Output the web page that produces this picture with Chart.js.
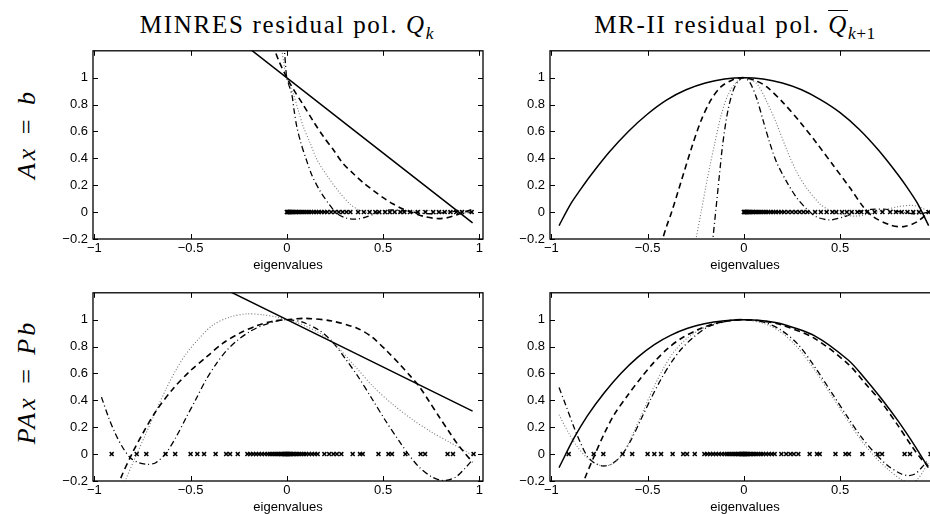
<!DOCTYPE html>
<html>
<head>
<meta charset="utf-8">
<script src="https://cdn.jsdelivr.net/npm/chart.js@4.4.1/dist/chart.umd.min.js"></script>
<style>
  html, body { margin:0; padding:0; background:#fff; }
  body { width:930px; height:514px; position:relative; overflow:hidden; }
  canvas { position:absolute; }
  .ttl { position:absolute; font-family:"Liberation Serif","DejaVu Serif",serif; font-size:25px; letter-spacing:1.7px; color:#000; text-align:center; white-space:nowrap; line-height:28px; }
  .ttl sub { font-size:70%; vertical-align:-0.35em; line-height:0; letter-spacing:0.5px; }
  .row { position:absolute; font-family:"Liberation Serif","DejaVu Serif",serif; font-size:26px; letter-spacing:3px; word-spacing:2px; color:#000; white-space:nowrap; transform:translate(-50%,-50%) rotate(-90deg); }
  .ov { text-decoration:overline; text-decoration-thickness:1px; }
</style>
</head>
<body>
<div class="ttl" style="left:87px; top:11px; width:400px;">MINRES residual pol. <i>Q</i><sub><i>k</i></sub></div>
<div class="ttl" style="left:535px; top:11px; width:400px;">MR-II residual pol. <i class="ov">Q</i><sub><i>k</i>+1</sub></div>
<div class="row" style="left:27px; top:134px;"><i>Ax</i> = <i>b</i></div>
<div class="row" style="left:27px; top:382px;"><i>PAx</i> = <i>Pb</i></div>

<canvas id="c1" width="450" height="237" style="left:40px; top:38px;"></canvas>
<canvas id="c2" width="450" height="237" style="left:497px; top:38px;"></canvas>
<canvas id="c3" width="450" height="237" style="left:40px; top:280px;"></canvas>
<canvas id="c4" width="450" height="237" style="left:497px; top:280px;"></canvas>

<script>
// ---------- axis ticks ----------
const xTickValues = [-1, -0.5, 0, 0.5, 1];
const xTickLabels = ['\u22121', '\u22120.5', '0', '0.5', '1'];
const yTickValues = [-0.2, 0, 0.2, 0.4, 0.6, 0.8, 1];
const yTickLabels = ['\u22120.2', '0', '0.2', '0.4', '0.6', '0.8', '1'];
const xLabel = 'eigenvalues';

// ---------- eigenvalues (markers at y = 0) ----------
const eigA = [0,0.003,0.006,0.01,0.014,0.018,0.023,0.028,0.034,0.04,0.047,0.055,0.063,0.072,0.082,0.092,0.103,0.115,0.127,0.14,0.153,0.166,0.18,0.195,0.21,0.23,0.25,0.27,0.29,0.31,0.33,0.37,0.4,0.43,0.46,0.48,0.51,0.535,0.56,0.59,0.61,0.64,0.68,0.72,0.76,0.79,0.82,0.85,0.88,0.91,0.96];
const eigPA = [-0.91,-0.78,-0.73,-0.63,-0.58,-0.5,-0.465,-0.43,-0.37,-0.315,-0.295,-0.255,-0.205,-0.19,-0.175,-0.16,-0.145,-0.13,-0.115,-0.1,-0.088,-0.076,-0.065,-0.055,-0.046,-0.038,-0.03,-0.023,-0.017,-0.012,-0.008,-0.004,0,0.004,0.008,0.012,0.017,0.023,0.03,0.038,0.046,0.055,0.065,0.076,0.088,0.1,0.115,0.13,0.145,0.16,0.195,0.22,0.242,0.26,0.283,0.342,0.38,0.394,0.476,0.528,0.546,0.616,0.695,0.718,0.835,0.863,0.97];

// ---------- MINRES, Ax = b ----------
const minresA_solid = [[-0.2,1.223],[0.965,-0.08]];
const minresA_dashed = [[-0.075,1.25],[-0.04,1.12],[0,1],[0.04,0.9],[0.08,0.81],[0.14,0.67],[0.19,0.562],[0.24,0.467],[0.29,0.365],[0.35,0.28],[0.4,0.215],[0.45,0.16],[0.5,0.108],[0.55,0.062],[0.6,0.025],[0.66,-0.007],[0.72,-0.035],[0.78,-0.048],[0.83,-0.043],[0.88,-0.022],[0.92,0.0],[0.965,0.02]];
const minresA_dotted = [[-0.03,1.25],[-0.015,1.1],[0,1],[0.035,0.873],[0.06,0.754],[0.086,0.634],[0.121,0.514],[0.155,0.395],[0.207,0.275],[0.268,0.156],[0.328,0.06],[0.38,0.012],[0.45,-0.012],[0.55,-0.01],[0.65,0.008],[0.75,0.012],[0.85,0.0],[0.965,-0.008]];
const minresA_dashdot = [[-0.015,1.25],[-0.007,1.1],[0,1],[0.026,0.873],[0.038,0.754],[0.052,0.634],[0.073,0.514],[0.1,0.395],[0.13,0.275],[0.173,0.156],[0.225,0.048],[0.26,-0.01],[0.31,-0.045],[0.36,-0.052],[0.41,-0.038],[0.47,-0.005],[0.53,0.015],[0.6,0.012],[0.68,-0.005],[0.76,-0.012],[0.84,0.0],[0.9,0.01],[0.965,-0.005]];

// ---------- MR-II, Ax = b ----------
const mr2A_solid = [[-0.96,-0.1],[-0.9,0.06],[-0.85,0.165],[-0.8,0.265],[-0.7,0.445],[-0.6,0.6],[-0.5,0.73],[-0.4,0.835],[-0.3,0.91],[-0.2,0.96],[-0.1,0.99],[0,1],[0.1,0.99],[0.2,0.96],[0.3,0.91],[0.4,0.835],[0.5,0.74],[0.6,0.615],[0.7,0.46],[0.8,0.28],[0.85,0.18],[0.9,0.07],[0.96,-0.1]];
const mr2A_dashed = [[-0.43,-0.25],[-0.422,-0.2],[-0.4,-0.1],[-0.378,-0.012],[-0.326,0.227],[-0.274,0.467],[-0.222,0.682],[-0.17,0.837],[-0.118,0.933],[-0.057,0.985],[0,1],[0.06,0.978],[0.118,0.933],[0.205,0.813],[0.292,0.67],[0.378,0.514],[0.465,0.347],[0.552,0.179],[0.622,0.036],[0.674,-0.036],[0.76,-0.096],[0.83,-0.108],[0.9,-0.072],[0.96,0.0]];
const mr2A_dotted = [[-0.256,-0.25],[-0.25,-0.21],[-0.222,0.0],[-0.188,0.26],[-0.153,0.5],[-0.118,0.72],[-0.083,0.87],[-0.04,0.965],[0,1],[0.066,0.957],[0.118,0.825],[0.17,0.658],[0.222,0.467],[0.274,0.3],[0.326,0.179],[0.396,0.06],[0.448,0.012],[0.5,-0.015],[0.58,-0.03],[0.66,-0.01],[0.74,0.02],[0.8,0.04],[0.87,0.05],[0.92,0.035],[0.96,0.0]];
const mr2A_dashdot = [[-0.165,-0.25],[-0.161,-0.2],[-0.144,0.036],[-0.127,0.275],[-0.109,0.514],[-0.083,0.754],[-0.057,0.897],[-0.031,0.972],[0,1],[0.031,0.965],[0.066,0.849],[0.1,0.682],[0.135,0.514],[0.17,0.371],[0.222,0.227],[0.274,0.108],[0.326,0.024],[0.378,-0.036],[0.448,-0.058],[0.517,-0.036],[0.587,0.0],[0.66,0.02],[0.74,0.02],[0.82,0.0],[0.9,-0.015],[0.96,0.0]];

// ---------- MINRES, PAx = Pb ----------
const minresPA_solid = [[-0.3,1.212],[0.965,0.32]];
const minresPA_dashed = [[-0.875,-0.25],[-0.864,-0.183],[-0.803,0.007],[-0.75,0.15],[-0.681,0.317],[-0.593,0.483],[-0.506,0.614],[-0.419,0.721],[-0.332,0.825],[-0.244,0.9],[-0.157,0.955],[-0.07,0.99],[0,1],[0.095,1.01],[0.234,0.99],[0.365,0.936],[0.443,0.87],[0.521,0.765],[0.582,0.675],[0.642,0.58],[0.686,0.507],[0.738,0.395],[0.79,0.28],[0.842,0.168],[0.885,0.078],[0.925,0.007],[0.965,-0.06]];
const minresPA_dotted = [[-0.845,-0.25],[-0.838,-0.195],[-0.785,-0.017],[-0.733,0.15],[-0.681,0.317],[-0.628,0.483],[-0.576,0.626],[-0.524,0.745],[-0.454,0.864],[-0.384,0.96],[-0.297,1.019],[-0.209,1.043],[-0.122,1.036],[-0.052,1.019],[0,1],[0.05,0.98],[0.1,0.95],[0.17,0.9],[0.26,0.8],[0.35,0.66],[0.45,0.5],[0.55,0.37],[0.65,0.26],[0.75,0.165],[0.85,0.085],[0.93,0.02],[0.965,-0.01]];
const minresPA_dashdot = [[-0.963,0.424],[-0.925,0.269],[-0.89,0.15],[-0.855,0.055],[-0.812,-0.029],[-0.768,-0.064],[-0.724,-0.076],[-0.681,-0.064],[-0.628,0.007],[-0.576,0.126],[-0.524,0.269],[-0.471,0.412],[-0.419,0.555],[-0.366,0.674],[-0.314,0.769],[-0.262,0.84],[-0.192,0.912],[-0.122,0.96],[-0.052,0.99],[0,1],[0.078,0.983],[0.165,0.924],[0.234,0.84],[0.304,0.71],[0.373,0.57],[0.443,0.41],[0.512,0.25],[0.582,0.1],[0.634,-0.005],[0.686,-0.095],[0.755,-0.171],[0.815,-0.197],[0.877,-0.171],[0.929,-0.1],[0.965,-0.04]];

// ---------- MR-II, PAx = Pb ----------
const mr2PA_solid = [[-0.96,-0.1],[-0.882,0.12],[-0.813,0.285],[-0.726,0.455],[-0.639,0.6],[-0.552,0.72],[-0.465,0.815],[-0.378,0.885],[-0.292,0.936],[-0.205,0.97],[-0.1,0.992],[0,1],[0.1,0.992],[0.194,0.97],[0.368,0.88],[0.542,0.7],[0.628,0.565],[0.715,0.412],[0.802,0.245],[0.889,0.06],[0.958,-0.1]];
const mr2PA_dashed = [[-0.84,-0.25],[-0.83,-0.195],[-0.778,-0.017],[-0.726,0.15],[-0.674,0.293],[-0.604,0.436],[-0.535,0.567],[-0.465,0.686],[-0.396,0.785],[-0.326,0.86],[-0.24,0.925],[-0.153,0.97],[-0.066,0.995],[0,1],[0.1,0.99],[0.194,0.962],[0.368,0.86],[0.542,0.67],[0.628,0.53],[0.715,0.385],[0.802,0.21],[0.872,0.06],[0.924,-0.04],[0.958,-0.09]];
const mr2PA_dotted = [[-0.96,0.293],[-0.917,0.174],[-0.865,0.055],[-0.813,-0.029],[-0.76,-0.076],[-0.717,-0.088],[-0.674,-0.064],[-0.622,0.019],[-0.569,0.174],[-0.517,0.34],[-0.465,0.507],[-0.413,0.65],[-0.361,0.765],[-0.292,0.865],[-0.222,0.93],[-0.153,0.97],[-0.066,0.995],[0,1],[0.108,0.97],[0.194,0.905],[0.281,0.79],[0.368,0.626],[0.455,0.436],[0.542,0.245],[0.611,0.1],[0.681,-0.02],[0.75,-0.115],[0.819,-0.19],[0.86,-0.21],[0.9,-0.19],[0.935,-0.12],[0.96,-0.06]];
const mr2PA_dashdot = [[-0.96,0.495],[-0.925,0.364],[-0.882,0.198],[-0.847,0.079],[-0.813,-0.017],[-0.778,-0.064],[-0.734,-0.088],[-0.691,-0.076],[-0.639,-0.017],[-0.587,0.102],[-0.535,0.257],[-0.483,0.412],[-0.431,0.555],[-0.378,0.68],[-0.326,0.78],[-0.257,0.875],[-0.188,0.945],[-0.1,0.985],[0,1],[0.108,0.98],[0.194,0.922],[0.281,0.817],[0.368,0.65],[0.455,0.46],[0.542,0.269],[0.611,0.126],[0.681,0.007],[0.75,-0.088],[0.819,-0.148],[0.854,-0.16],[0.889,-0.148],[0.924,-0.1],[0.958,-0.04]];

// ---------- styling ----------
const X_MIN = -1.007, X_MAX = 1.019, Y_MIN = -0.2, Y_MAX = 1.2;
const STYLES = {
  solid:   { color:'#000', width:1.5, dash:[] },
  dashed:  { color:'#000', width:1.6, dash:[6,4] },
  dotted:  { color:'#777', width:1.1, dash:[1,2] },
  dashdot: { color:'#000', width:1.3, dash:[6,3,1,3] }
};
const tickFont = { family:'"Liberation Sans", Arial, sans-serif', size:13 };

const boxPlugin = {
  id:'box',
  afterDraw(chart) {
    const {ctx, chartArea:a, scales} = chart;
    ctx.save();
    ctx.strokeStyle = '#000';
    ctx.lineWidth = 1.3;
    ctx.setLineDash([]);
    ctx.strokeRect(a.left, a.top, a.right - a.left, a.bottom - a.top);
    ctx.lineWidth = 1;
    const L = 5;
    ctx.beginPath();
    xTickValues.forEach(v => {
      const px = Math.round(scales.x.getPixelForValue(v)) + 0.5;
      ctx.moveTo(px, a.bottom); ctx.lineTo(px, a.bottom - L);
      ctx.moveTo(px, a.top); ctx.lineTo(px, a.top + L);
    });
    yTickValues.forEach(v => {
      const py = Math.round(scales.y.getPixelForValue(v)) + 0.5;
      ctx.moveTo(a.left, py); ctx.lineTo(a.left + L, py);
      ctx.moveTo(a.right, py); ctx.lineTo(a.right - L, py);
    });
    ctx.stroke();
    ctx.restore();
  }
};

function lineSet(points, style) {
  const s = STYLES[style];
  return {
    type:'line',
    data: points.map(p => ({x:p[0], y:p[1]})),
    borderColor:s.color, borderWidth:s.width, borderDash:s.dash,
    pointRadius:0, fill:false, tension:0.3, clip:0
  };
}
function eigSet(vals) {
  return {
    type:'scatter',
    data: vals.map(v => ({x:v, y:0})),
    showLine:false, pointStyle:'crossRot', pointRadius:2.8,
    borderColor:'#000', backgroundColor:'#000', pointBorderWidth:1.5, clip:false
  };
}

function makeChart(id, curves, eig) {
  const datasets = [eigSet(eig)];
  curves.forEach(c => datasets.push(lineSet(c[0], c[1])));
  new Chart(document.getElementById(id), {
    type:'line',
    data:{ datasets },
    options:{
      animation:false, responsive:false, devicePixelRatio:1,
      layout:{ padding:{ top:5, right:7, left:0, bottom:0 } },
      plugins:{ legend:{display:false}, tooltip:{enabled:false} },
      scales:{
        x:{
          type:'linear', min:X_MIN, max:X_MAX,
          afterBuildTicks: s => { s.ticks = xTickValues.map(v => ({value:v})); },
          afterFit: s => { s.height = 36; },
          grid:{ display:false, drawTicks:false }, border:{ display:false },
          ticks:{ autoSkip:false, maxRotation:0, padding:2, color:'#000', font:tickFont,
                  callback:(v, i) => xTickLabels[i] },
          title:{ display:true, text:xLabel, color:'#000',
                  font:{ family:'"Liberation Sans", Arial, sans-serif', size:13 },
                  padding:{ top:0, bottom:2 } }
        },
        y:{
          type:'linear', min:Y_MIN, max:Y_MAX,
          afterBuildTicks: s => { s.ticks = yTickValues.map(v => ({value:v})); },
          afterFit: s => { s.width = 53; },
          grid:{ display:false, drawTicks:false }, border:{ display:false },
          ticks:{ autoSkip:false, padding:5, color:'#000', font:tickFont,
                  callback:(v, i) => yTickLabels[i] }
        }
      }
    },
    plugins:[boxPlugin]
  });
}

makeChart('c1', [[minresA_solid,'solid'],[minresA_dashed,'dashed'],[minresA_dotted,'dotted'],[minresA_dashdot,'dashdot']], eigA);
makeChart('c2', [[mr2A_solid,'solid'],[mr2A_dashed,'dashed'],[mr2A_dotted,'dotted'],[mr2A_dashdot,'dashdot']], eigA);
makeChart('c3', [[minresPA_solid,'solid'],[minresPA_dashed,'dashed'],[minresPA_dotted,'dotted'],[minresPA_dashdot,'dashdot']], eigPA);
makeChart('c4', [[mr2PA_solid,'solid'],[mr2PA_dashed,'dashed'],[mr2PA_dotted,'dotted'],[mr2PA_dashdot,'dashdot']], eigPA);
</script>
</body>
</html>
